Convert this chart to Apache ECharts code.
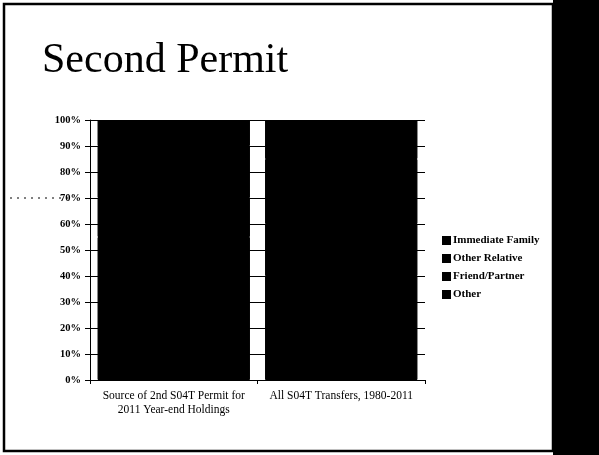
<!DOCTYPE html>
<html><head><meta charset="utf-8">
<script src="https://cdn.jsdelivr.net/npm/echarts@6/dist/echarts.min.js"></script>
<style>html,body{margin:0;padding:0;background:#fff}#c{width:599px;height:455px}</style>
</head><body><div id="c"></div>
<script>
var categories = ['Source of 2nd S04T Permit for\n2011 Year-end Holdings', 'All S04T Transfers, 1980-2011'];
var seriesNames = ['Immediate Family', 'Other Relative', 'Friend/Partner', 'Other'];
var immediateFamily = [55, 40];
var otherRelative = [15, 20];
var friendPartner = [20, 25];
var other = [10, 15];
var yTicks = [0, 10, 20, 30, 40, 50, 60, 70, 80, 90, 100];

var values = [immediateFamily, otherRelative, friendPartner, other];
var serif = '"Liberation Serif", serif';
var chart = echarts.init(document.getElementById('c'));
chart.setOption({
  backgroundColor: '#fff',
  animation: false,
  title: { text: 'Second Permit', left: 37, top: 35,
    textStyle: { fontFamily: serif, fontSize: 42, fontWeight: 'normal', color: '#000' } },
  legend: {
    orient: 'vertical', left: 437, top: 230, itemGap: 7,
    itemWidth: 7, itemHeight: 7, icon: 'rect',
    data: seriesNames,
    textStyle: { fontFamily: serif, fontSize: 11, fontWeight: 'bold', color: '#000', padding: [0, 0, 0, -2] }
  },
  grid: { left: 90, right: 174, top: 120, bottom: 75 },
  xAxis: {
    type: 'category', data: categories,
    axisLine: { lineStyle: { color: '#000', width: 1 } },
    axisTick: { show: true, length: 4, lineStyle: { color: '#000' } },
    axisLabel: { interval: 0, fontFamily: serif, fontSize: 11.5, color: '#000', margin: 9, lineHeight: 14 }
  },
  yAxis: {
    type: 'value', min: 0, max: 100, interval: 10,
    axisLine: { show: true, lineStyle: { color: '#000' } },
    axisTick: { show: true, length: 5, lineStyle: { color: '#000' } },
    splitLine: { show: true, lineStyle: { color: '#000', width: 1 } },
    axisLabel: { fontFamily: serif, fontSize: 10.5, fontWeight: 'bold', color: '#000', margin: 9,
      formatter: function (v) { return yTicks.indexOf(v) >= 0 ? v + '%' : ''; } }
  },
  series: seriesNames.map(function (n, i) {
    return { name: n, type: 'bar', stack: 'total', data: values[i], barCategoryGap: '9%',
      itemStyle: { color: '#000', borderColor: '#000', borderWidth: 1 } };
  }),
  graphic: [
    { type: 'rect', shape: { x: 553, y: 0, width: 46, height: 455 }, style: { fill: '#000' } },
    { type: 'rect', shape: { x: 4, y: 4, width: 549, height: 447 }, style: { fill: 'none', stroke: '#000', lineWidth: 2.5 } },
    { type: 'line', shape: { x1: 10, y1: 198, x2: 72, y2: 198 }, style: { stroke: '#000', lineWidth: 1, lineDash: [2, 5] } }
  ]
});
</script></body></html>
